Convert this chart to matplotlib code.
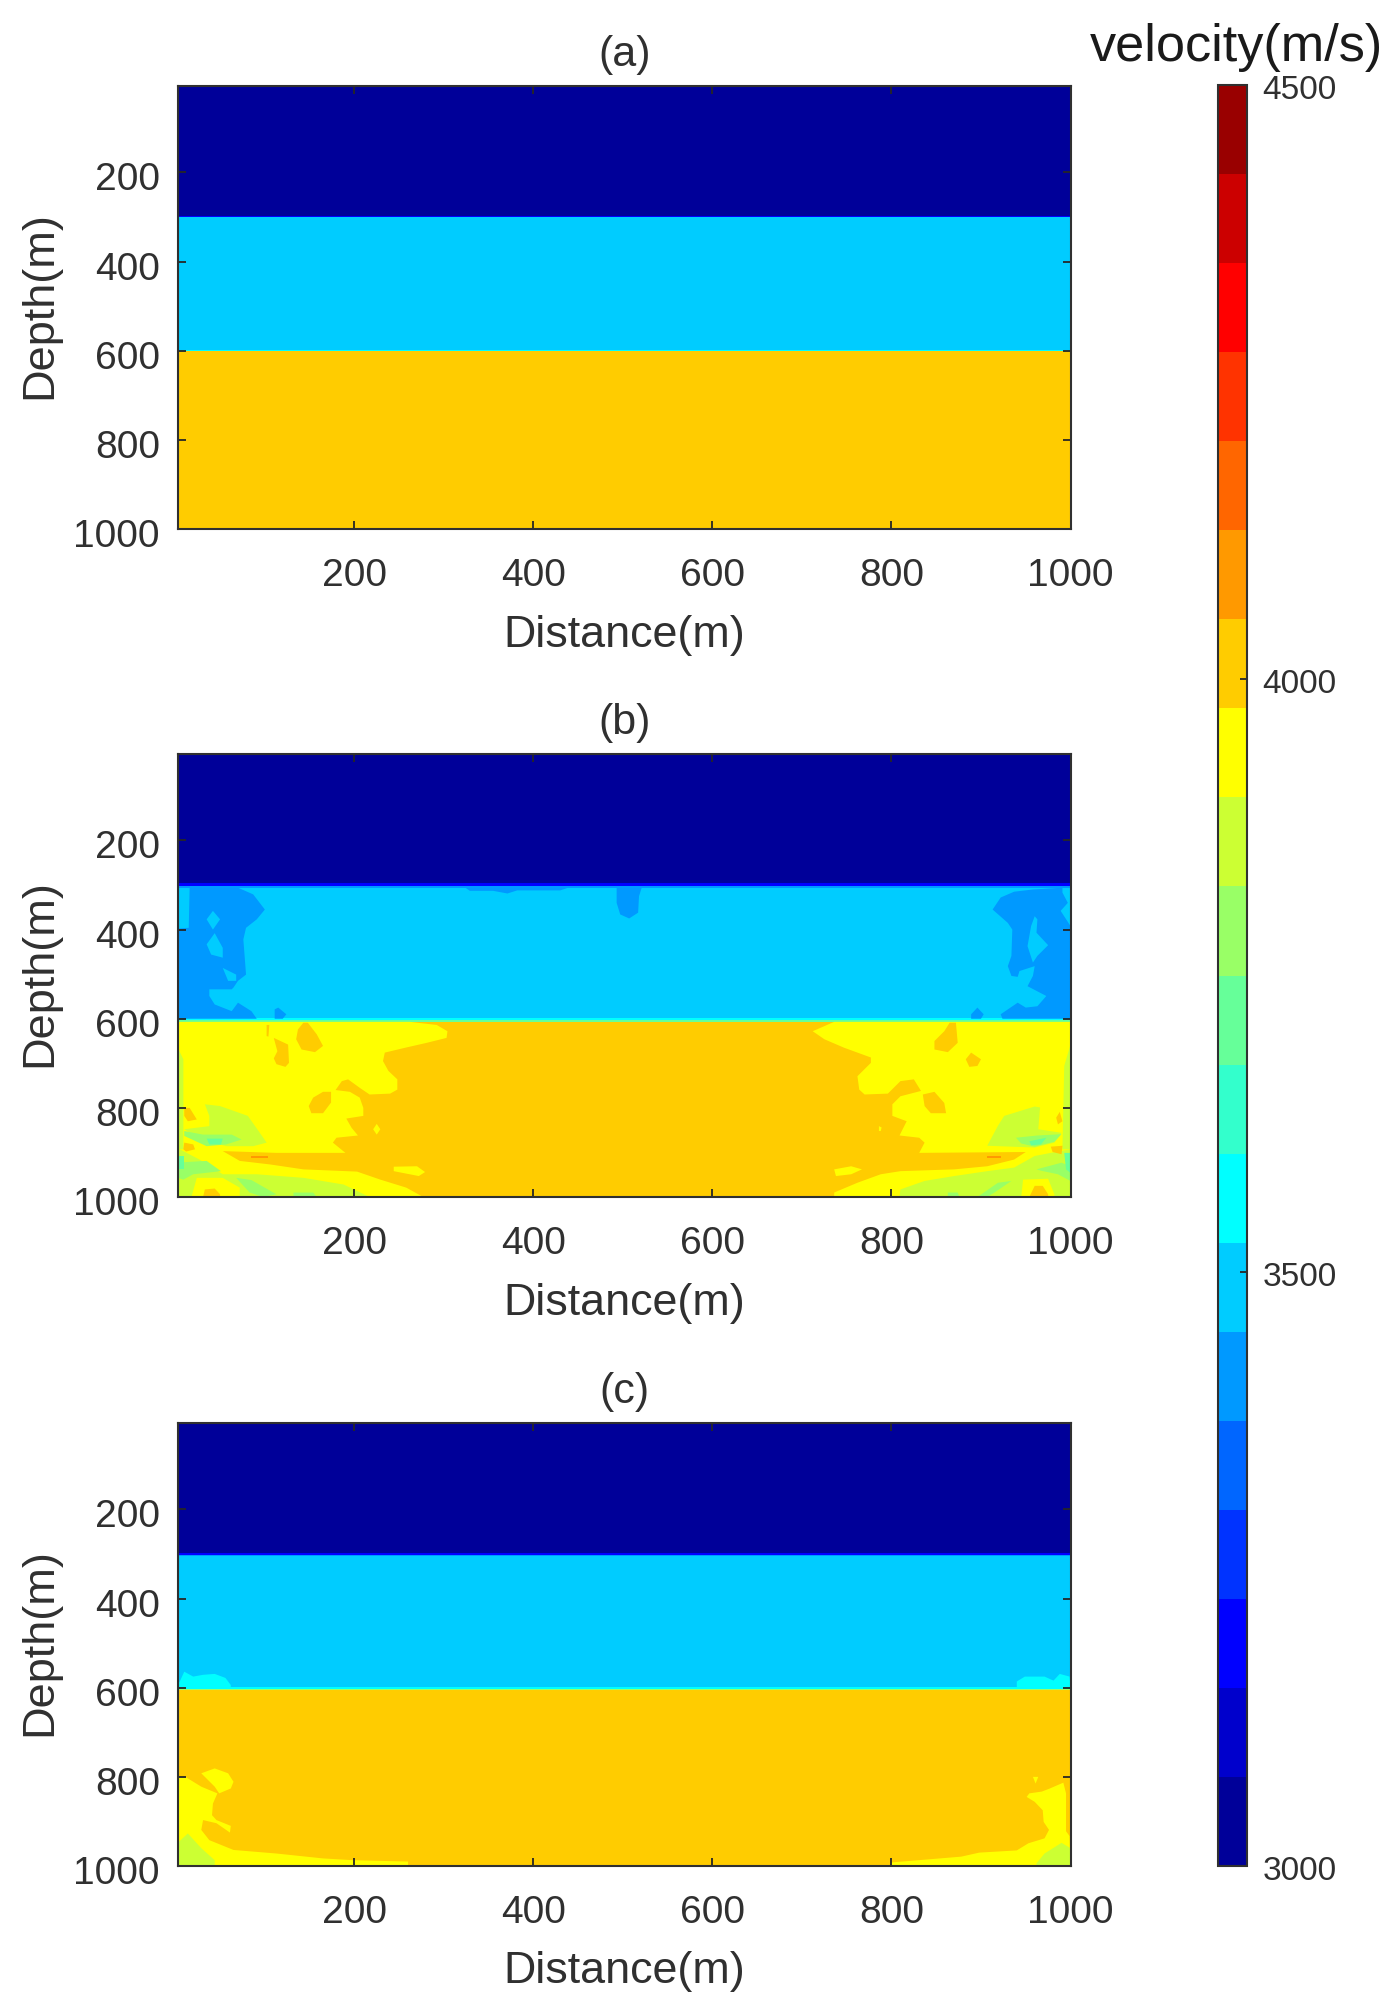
import matplotlib
matplotlib.use("Agg")
import matplotlib.pyplot as plt
from matplotlib.colors import BoundaryNorm, ListedColormap
from matplotlib.cm import ScalarMappable
from matplotlib.transforms import ScaledTranslation
import numpy as np

plt.rcParams["font.family"] = ["Liberation Sans", "DejaVu Sans"]

W, H = 1391, 2007
TEXT = "#303030"

# MATLAB jet(20), one band per 75 m/s
JET20 = ["#000099", "#0000cc", "#0000ff", "#0033ff", "#0066ff", "#0099ff", "#00ccff",
         "#00ffff", "#33ffcc", "#66ff99", "#99ff66", "#ccff33", "#ffff00", "#ffcc00",
         "#ff9900", "#ff6600", "#ff3300", "#ff0000", "#cc0000", "#990000"]
LEVELS = list(range(3000, 4501, 75))
CBAR_TICKS = [3000, 3500, 4000, 4500]
TICKS = [200, 400, 600, 800, 1000]
TITLES = ["(a)", "(b)", "(c)"]

# layered background: depth edges (m) and velocity in each layer (m/s)
a_edges = [0, 298, 301, 598, 601, 1000]
a_vel = [3000, 3200, 3500, 3550, 4000]
b_edges = [0, 296, 303, 307, 598, 603, 607, 1000]
b_vel = [3000, 3200, 3400, 3500, 3550, 3700, 4000]
c_edges = [0, 298, 302, 305, 598, 603, 606, 1000]
c_vel = [3000, 3200, 3400, 3500, 3550, 3800, 4000]

# contour regions: (velocity, [(distance, depth), ...])
b_upper = [
    (3400, [(16, 306), (70, 306), (87, 321), (100, 355), (91, 377), (79, 396), (76, 422), (79, 501),
            (70, 515), (65, 530), (63, 534), (38, 534), (38, 549), (44, 568), (63, 583), (70, 564),
            (85, 583), (91, 600), (0, 600), (0, 398), (15, 396)]),
    (3500, [(42, 358), (50, 377), (42, 400), (35, 377)]),
    (3500, [(44, 408), (53, 441), (53, 463), (40, 456), (35, 433)]),
    (3500, [(53, 486), (68, 501), (68, 515), (59, 515)]),
    (3400, [(111, 579), (115, 575), (124, 590), (120, 600), (111, 600)]),
    (3400, [(493, 306), (521, 306), (518, 325), (517, 362), (507, 375), (497, 366), (493, 340)]),
    (3400, [(324, 306), (439, 306), (430, 312), (382, 312), (371, 319), (355, 313), (329, 313)]),
    (3400, [(913, 355), (922, 328), (937, 315), (958, 310), (991, 306), (991, 317), (997, 340),
            (989, 358), (1000, 392), (1000, 600), (924, 600), (922, 590), (941, 564), (950, 575),
            (963, 572), (973, 549), (952, 527), (958, 504), (960, 482), (943, 493), (941, 506),
            (934, 504), (930, 482), (934, 459), (935, 400), (930, 385)]),
    (3500, [(960, 370), (963, 377), (962, 407), (975, 435), (963, 459), (958, 474), (952, 437), (956, 392)]),
    (3400, [(889, 590), (896, 575), (903, 590), (900, 600), (889, 600)]),
]
b_lower_left = [
    (3950, [(0, 607), (262, 607), (292, 614), (304, 628), (303, 643), (281, 654), (257, 665), (234, 676),
            (232, 695), (238, 717), (248, 736), (248, 759), (240, 768), (217, 770), (206, 755), (193, 736),
            (186, 740), (179, 760), (195, 764), (206, 777), (210, 800), (210, 818), (191, 824), (197, 845),
            (204, 862), (180, 867), (176, 878), (190, 901), (113, 901), (53, 897), (72, 919), (106, 927),
            (143, 938), (203, 943), (229, 961), (258, 979), (277, 1000), (0, 1000)]),
    (4000, [(102, 614), (105, 614), (104, 640), (102, 639)]),
    (4000, [(143, 609), (148, 609), (158, 635), (165, 661), (156, 675), (141, 669), (135, 646), (137, 624)]),
    (4000, [(110, 643), (126, 658), (127, 699), (123, 708), (113, 702), (110, 689), (114, 673)]),
    (4000, [(165, 764), (174, 764), (174, 788), (165, 812), (152, 812), (149, 796), (154, 777)]),
    (3950, [(225, 836), (229, 848), (225, 860), (221, 848)]),
    (3950, [(244, 932), (270, 931), (279, 944), (272, 953), (244, 942)]),
    (3850, [(33, 792), (50, 796), (81, 818), (93, 852), (102, 878), (87, 886), (57, 886), (29, 871),
            (10, 848), (38, 841), (38, 818)]),
    (3800, [(10, 852), (31, 860), (63, 860), (74, 871), (57, 882), (35, 886), (10, 863)]),
    (3700, [(35, 869), (53, 869), (51, 882), (38, 882)]),
    (3850, [(0, 654), (9, 691), (9, 893), (0, 893)]),
    (3850, [(5, 893), (27, 916), (53, 949), (91, 949), (143, 957), (188, 972), (217, 1000), (72, 1000),
            (72, 979), (53, 957), (24, 957), (18, 1000), (0, 1000), (0, 893)]),
    (3800, [(0, 923), (35, 919), (51, 942), (20, 949), (9, 961), (0, 955)]),
    (3800, [(68, 957), (85, 962), (113, 994), (98, 1000), (83, 990)]),
    (3800, [(132, 990), (154, 990), (158, 1000), (132, 1000)]),
    (3700, [(0, 908), (10, 908), (10, 938), (0, 938)]),
    (4000, [(31, 1000), (33, 983), (44, 981), (50, 994), (50, 1000)]),
    (4000, [(10, 800), (16, 800), (24, 826), (14, 830), (10, 818)]),
    (4000, [(10, 878), (20, 882), (22, 893), (12, 898), (9, 893)]),
    (4100, [(85, 908), (104, 908), (104, 913), (85, 913)]),
]
b_lower_right = [
    (3950, [(736, 607), (712, 628), (725, 646), (747, 665), (777, 687), (777, 699), (762, 729), (764, 759),
            (770, 770), (796, 768), (810, 740), (825, 736), (833, 762), (810, 774), (801, 792), (801, 818),
            (817, 830), (809, 862), (831, 867), (837, 878), (831, 901), (950, 899), (937, 916), (907, 931),
            (870, 938), (810, 942), (788, 949), (762, 968), (736, 990), (736, 1000), (1000, 1000), (1000, 607)]),
    (4000, [(865, 609), (872, 609), (874, 654), (863, 675), (848, 669), (848, 650), (859, 628)]),
    (4000, [(889, 676), (900, 691), (896, 706), (887, 708), (883, 691)]),
    (4000, [(835, 770), (848, 764), (859, 789), (861, 812), (844, 812), (837, 796)]),
    (3950, [(786, 841), (789, 844), (788, 852), (786, 852)]),
    (3950, [(736, 938), (755, 931), (767, 938), (755, 949), (738, 953)]),
    (3850, [(926, 818), (960, 797), (966, 799), (964, 848), (990, 856), (982, 878), (960, 889), (907, 885), (919, 840)]),
    (3800, [(939, 867), (963, 862), (990, 859), (982, 876), (960, 887), (945, 880)]),
    (3700, [(954, 875), (973, 867), (967, 882), (956, 884)]),
    (3850, [(993, 706), (1000, 658), (1000, 893), (991, 893)]),
    (3850, [(809, 1000), (810, 983), (837, 964), (870, 953), (907, 942), (937, 934), (960, 908), (978, 901),
            (1000, 893), (1000, 1000)]),
    (3950, [(945, 1000), (947, 961), (975, 959), (982, 994), (982, 1000)]),
    (4000, [(954, 1000), (960, 975), (969, 975), (975, 994), (975, 1000)]),
    (3800, [(962, 938), (990, 923), (1000, 931), (1000, 964), (986, 949), (967, 941)]),
    (3800, [(896, 1000), (919, 968), (934, 964), (915, 990), (907, 1000)]),
    (3800, [(863, 990), (874, 990), (876, 1000), (863, 1000)]),
    (3700, [(993, 901), (1000, 901), (1000, 946), (995, 938)]),
    (4000, [(984, 822), (988, 809), (991, 830), (986, 837)]),
    (4000, [(978, 887), (991, 885), (990, 904), (980, 899)]),
    (4100, [(907, 908), (922, 908), (922, 913), (907, 913)]),
]
c_regions = [
    (3550, [(0, 600), (5, 586), (10, 564), (20, 575), (31, 571), (44, 569), (56, 578), (62, 594), (62, 600)]),
    (3550, [(940, 600), (940, 586), (949, 575), (971, 575), (981, 584), (988, 569), (999, 575), (1000, 600)]),
    (3950, [(0, 800), (12, 801), (29, 822), (47, 837), (42, 860), (41, 886), (46, 897), (62, 910), (61, 925),
            (46, 904), (31, 897), (29, 919), (38, 942), (65, 964), (113, 972), (165, 983), (199, 987),
            (260, 990), (260, 1000), (0, 1000)]),
    (3950, [(29, 792), (44, 781), (59, 792), (65, 811), (62, 826), (49, 837), (44, 822)]),
    (3850, [(0, 953), (14, 927), (29, 960), (44, 987), (44, 1000), (0, 1000)]),
    (3950, [(800, 992), (878, 979), (898, 970), (940, 965), (953, 949), (971, 938), (976, 919), (970, 901),
            (969, 875), (960, 856), (951, 845), (954, 837), (968, 833), (977, 826), (992, 813), (995, 837),
            (995, 922), (999, 933), (1000, 1000), (800, 1000)]),
    (3950, [(958, 800), (964, 800), (961, 815)]),
    (3850, [(962, 994), (971, 972), (990, 948), (1000, 960), (1000, 1000), (962, 1000)]),
]


def axes_rect(left, top, right, bottom):
    return [left / W, 1 - bottom / H, (right - left) / W, (bottom - top) / H]


def shift_labels(axis, fig, px):
    # the tick labels sit a little below their ticks in the original
    off = ScaledTranslation(0, -px / fig.dpi, fig.dpi_scale_trans)
    for lab in axis.get_ticklabels():
        lab.set_transform(lab.get_transform() + off)


cmap = ListedColormap(JET20)
norm = BoundaryNorm(LEVELS, cmap.N)

fig = plt.figure(figsize=(W / 100, H / 100), dpi=100)

panels = [
    (axes_rect(178, 86, 1070.5, 529), a_edges, a_vel, []),
    (axes_rect(178, 754, 1070.5, 1197), b_edges, b_vel, b_upper + b_lower_left + b_lower_right),
    (axes_rect(178, 1423, 1070.5, 1866), c_edges, c_vel, c_regions),
]

for (rect, edges, vel, regions), title in zip(panels, TITLES):
    ax = fig.add_axes(rect)
    ax.pcolormesh([0, 1000], edges, np.array(vel)[:, None], cmap=cmap, norm=norm, antialiased=False)
    for v, pts in regions:
        xs, ys = zip(*pts)
        ax.fill(xs, ys, color=cmap(norm(v)), linewidth=0)
    ax.set_xlim(3, 1000)
    ax.set_ylim(1000, 6)
    ax.set_xticks(TICKS)
    ax.set_yticks(TICKS)
    ax.tick_params(direction="in", length=6, width=1.3, top=True, right=True, color="#262626",
                   labelcolor=TEXT, labelsize=28)
    ax.tick_params(axis="x", pad=21)
    ax.tick_params(axis="y", pad=13)
    shift_labels(ax.yaxis, fig, 4)
    for s in ax.spines.values():
        s.set_linewidth(1.5)
        s.set_color("#303030")
    ax.set_xlabel("Distance(m)", fontsize=32.3, color=TEXT, va="center")
    ax.set_ylabel("Depth(m)", fontsize=32.5, color=TEXT, va="center")
    ax.xaxis.set_label_coords(0.5, -106 / 443)
    ax.yaxis.set_label_coords(-138 / 892.5, 0.505)
    ax.set_title(title, fontsize=31, color=TEXT, pad=14.5)

cax = fig.add_axes(axes_rect(1218, 85, 1247, 1866))
cb = fig.colorbar(ScalarMappable(norm=norm, cmap=cmap), cax=cax, spacing="proportional", ticks=CBAR_TICKS)
cb.minorticks_off()
cax.tick_params(direction="in", length=5, width=1.3, color="#262626", labelcolor=TEXT, labelsize=24, pad=11)
shift_labels(cax.yaxis, fig, 2)
cb.outline.set_linewidth(1.5)
cb.outline.set_edgecolor("#303030")
fig.text(1236 / W, 1 - 47 / H, "velocity(m/s)", fontsize=37.6, ha="center", va="center", color="#1a1a1a")

fig.savefig("out.png", dpi=100)
